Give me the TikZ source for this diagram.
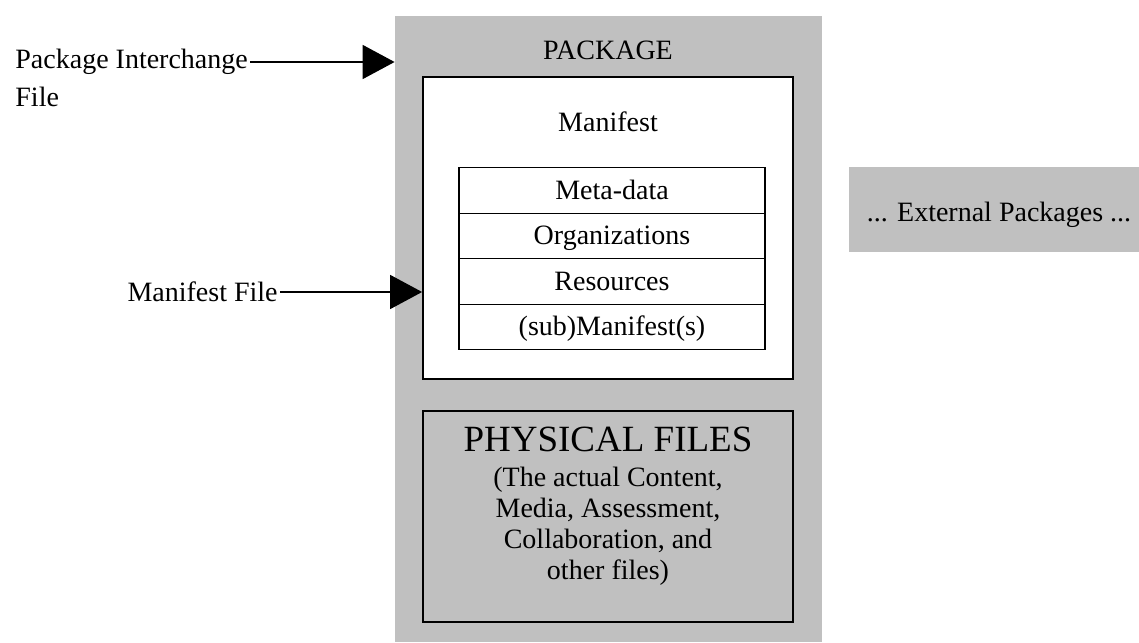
\documentclass[tikz,border=0pt]{standalone}
\usepackage{fontspec}
\setmainfont{Liberation Serif}
\usetikzlibrary{arrows.meta}
\usetikzlibrary{calc}
\definecolor{pkggray}{HTML}{C0C0C0}

\begin{document}
\begin{tikzpicture}[x=0.5pt,y=-0.5pt,font=\fontsize{14}{15.5}\selectfont,
    bigarrow/.style={-{Triangle[length=16pt,width=17pt]},line width=0.8pt},
    row/.style={draw,line width=0.6pt,fill=white,minimum width=153pt,minimum height=22.75pt,inner sep=0,
      text height=9.5pt,text depth=1pt}]
  \useasboundingbox (0,0) rectangle (1139,642);
  \node[fill=pkggray,inner sep=0,minimum width=213.5pt,minimum height=313pt] (P) at (608.5,329) {};
  \node (Plabel) at (608,50) {PACKAGE};
  \node[draw,fill=white,line width=0.9pt,minimum width=185pt,minimum height=151pt] (M) at (608,228) {};
  \node (Mlabel) at (608,122) {Manifest};
  \foreach \t [count=\i] in {Meta-data,Organizations,Resources,{(sub)Manifest(s)}}
    \node[row] (R\i) at (612,145+45.5*\i) {\t};
  \node[draw,fill=pkggray,line width=0.9pt,minimum width=185pt,minimum height=105.5pt] (F) at (608,516.5) {};
  \node[align=center] (Flabel) at (608,506) {{\fontsize{18.5}{20}\selectfont PHYSICAL FILES}\\[2pt]
    (The actual Content,\\ Media, Assessment,\\ Collaboration, and\\ other files)};
  \node[fill=pkggray,minimum width=150pt,minimum height=42.5pt,text height=12pt,text depth=0pt] (E) at (999,209.5) {... External Packages ...};
  \node[inner sep=1pt,anchor=west] (pif) at (13,62) {Package Interchange};
  \node[inner sep=1pt,anchor=west] (pif2) at (13,97) {File};
  \node[inner sep=1pt,anchor=east] (mf) at (280,292) {Manifest File};
  \draw[bigarrow] (pif) to (pif -| P.west);
  \draw[bigarrow] (mf) to (mf -| M.west);
\end{tikzpicture}
\end{document}
